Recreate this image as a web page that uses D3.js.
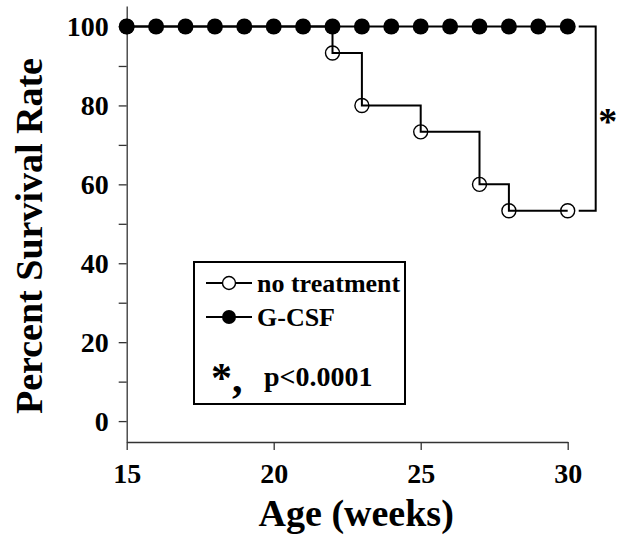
<!DOCTYPE html>
<html>
<head>
<meta charset="utf-8">
<script src="https://cdn.jsdelivr.net/npm/d3@7"></script>
<style>
  html, body { margin: 0; padding: 0; background: #fff; }
  svg { display: block; }
  text { font-family: "Liberation Serif", "Times New Roman", Times, serif; font-weight: bold; fill: #000; }
</style>
</head>
<body>
<svg id="chart" width="624" height="535"></svg>
<script>
// ---- data ----
const gcsfWeeks = [15, 16, 17, 18, 19, 20, 21, 22, 23, 24, 25, 26, 27, 28, 29, 30];
const gcsfSurvival = [100, 100, 100, 100, 100, 100, 100, 100, 100, 100, 100, 100, 100, 100, 100, 100];
const ntWeeks = [15, 22, 23, 25, 27, 28, 30];
const ntSurvival = [100, 93.3, 80, 73.3, 60, 53.3, 53.3];
const xTicks = [15, 20, 25, 30];
const yMajorTicks = [0, 20, 40, 60, 80, 100];
const yMinorTicks = [10, 30, 50, 70, 90];
const seriesNames = ["no treatment", "G-CSF"];
const xTitle = "Age (weeks)";
const yTitle = "Percent Survival Rate";
const sigMark = "*";
const pText = "p<0.0001";

// ---- scales ----
const svg = d3.select("#chart");
const x = d3.scaleLinear().domain([15, 30]).range([126.7, 567.7]);
const y = d3.scaleLinear().domain([-5.3, 105.2]).range([442, 6]);

// ---- axes ----
const axisColor = "#333";
const gx = svg.append("g").attr("transform", `translate(0,${y.range()[0]})`)
  .call(d3.axisBottom(x).tickValues(xTicks).tickSize(8).tickSizeOuter(0).tickPadding(13).tickFormat(d3.format("d")));
gx.select(".domain").attr("stroke", axisColor).attr("stroke-width", 1.3);
gx.selectAll(".tick line").attr("stroke", axisColor).attr("stroke-width", 1.3);
gx.selectAll(".tick text").style("font-size", "28px").attr("dy", "0.71em");

const gy = svg.append("g").attr("transform", `translate(${x.range()[0]},0)`)
  .call(d3.axisLeft(y).tickValues(yMajorTicks).tickSize(8).tickSizeOuter(0).tickPadding(10).tickFormat(d3.format("d")));
gy.select(".domain").attr("stroke", axisColor).attr("stroke-width", 1.3);
gy.selectAll(".tick line").attr("stroke", axisColor).attr("stroke-width", 1.3);
gy.selectAll(".tick text").style("font-size", "28px");

const gyMinor = svg.append("g").attr("transform", `translate(${x.range()[0]},0)`)
  .call(d3.axisLeft(y).tickValues(yMinorTicks).tickSize(8).tickSizeOuter(0).tickFormat(""));
gyMinor.select(".domain").remove();
gyMinor.selectAll(".tick line").attr("stroke", axisColor).attr("stroke-width", 1.3);

// ---- axis titles ----
svg.append("text")
  .attr("x", (x.range()[0] + x.range()[1]) / 2 + 9).attr("y", 526)
  .attr("text-anchor", "middle").style("font-size", "38px").text(xTitle);
svg.append("text")
  .attr("transform", "translate(42,236) rotate(-90)")
  .attr("text-anchor", "middle").style("font-size", "38px").text(yTitle);

// ---- no treatment step line ----
const ntData = ntWeeks.map((w, i) => ({ w, v: ntSurvival[i] }));
const gData = gcsfWeeks.map((w, i) => ({ w, v: gcsfSurvival[i] }));

svg.append("path").datum(ntData)
  .attr("fill", "none").attr("stroke", "#000").attr("stroke-width", 2)
  .attr("d", d3.line().x(d => x(d.w)).y(d => y(d.v)).curve(d3.curveStepAfter));

svg.append("g").selectAll("circle").data(ntData).join("circle")
  .attr("cx", d => x(d.w)).attr("cy", d => y(d.v)).attr("r", 7)
  .attr("fill", "none").attr("stroke", "#000").attr("stroke-width", 1.4);

// ---- G-CSF line ----
svg.append("path").datum(gData)
  .attr("fill", "none").attr("stroke", "#000").attr("stroke-width", 2)
  .attr("d", d3.line().x(d => x(d.w)).y(d => y(d.v)));

svg.append("g").selectAll("circle").data(gData).join("circle")
  .attr("cx", d => x(d.w)).attr("cy", d => y(d.v)).attr("r", 8).attr("fill", "#000");

// ---- significance bracket ----
const bx0 = x(30) + 11, bx1 = x(30) + 28;
const yTop = y(gcsfSurvival[gcsfSurvival.length - 1]);
const yBot = y(ntSurvival[ntSurvival.length - 1]);
svg.append("path")
  .attr("d", `M${bx0},${yTop}H${bx1}V${yBot}H${bx0}`)
  .attr("fill", "none").attr("stroke", "#000").attr("stroke-width", 2);
svg.append("text")
  .attr("x", bx1 + 12).attr("y", (yTop + yBot) / 2 + 15)
  .attr("text-anchor", "middle").style("font-size", "38px").text(sigMark);

// ---- legend ----
const lg = svg.append("g");
lg.append("rect").attr("x", 194).attr("y", 262).attr("width", 211).attr("height", 142)
  .attr("fill", "#fff").attr("stroke", "#000").attr("stroke-width", 2);
const rows = [
  { name: seriesNames[0], cy: 283, filled: false },
  { name: seriesNames[1], cy: 317, filled: true }
];
rows.forEach(r => {
  lg.append("line").attr("x1", 206).attr("x2", 252).attr("y1", r.cy).attr("y2", r.cy)
    .attr("stroke", "#000").attr("stroke-width", 2);
  lg.append("circle").attr("cx", 229).attr("cy", r.cy).attr("r", r.filled ? 7 : 6.5)
    .attr("fill", r.filled ? "#000" : "#fff").attr("stroke", "#000").attr("stroke-width", r.filled ? 0 : 1.4);
  lg.append("text").attr("x", 257).attr("y", r.cy + 9).style("font-size", "26px").text(r.name);
});
lg.append("text").attr("x", 211).attr("y", 392).style("font-size", "42px").text(sigMark + ",");
lg.append("text").attr("x", 264).attr("y", 386).style("font-size", "28px").text(pText);
</script>
</body>
</html>
